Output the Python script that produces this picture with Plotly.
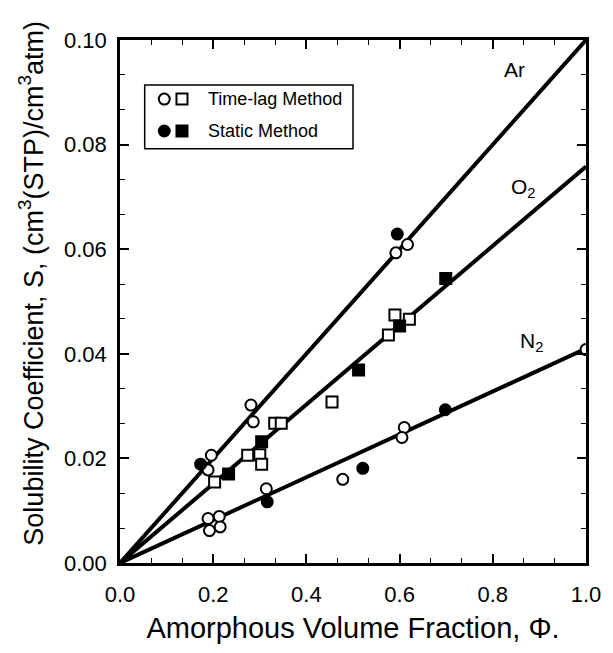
import plotly.graph_objects as go

# ---- data ----
ar_open_x = [0.189, 0.196, 0.281, 0.286, 0.592, 0.617]
ar_open_y = [0.0178, 0.0206, 0.0302, 0.0270, 0.0593, 0.0609]
ar_fill_x = [0.173, 0.595]
ar_fill_y = [0.0189, 0.0629]

o2_open_x = [0.203, 0.274, 0.300, 0.304, 0.332, 0.346, 0.455, 0.576, 0.590, 0.621]
o2_open_y = [0.0155, 0.0206, 0.0207, 0.0189, 0.0267, 0.0267, 0.0308, 0.0436, 0.0474, 0.0466]
o2_fill_x = [0.233, 0.304, 0.512, 0.600, 0.699]
o2_fill_y = [0.0170, 0.0232, 0.0369, 0.0453, 0.0544]

n2_open_x = [0.189, 0.213, 0.192, 0.215, 0.314, 0.478, 0.610, 0.605, 1.0]
n2_open_y = [0.0085, 0.0089, 0.0062, 0.0069, 0.0142, 0.0160, 0.0259, 0.0240, 0.0408]
n2_fill_x = [0.316, 0.521, 0.698]
n2_fill_y = [0.0117, 0.0181, 0.0293]

line_x = [0.0, 1.0]
slopes = {"Ar": 0.100, "O2": 0.0758, "N2": 0.0410}

x_ticks = [0, 0.2, 0.4, 0.6, 0.8, 1.0]
x_labels = ["0.0", "0.2", "0.4", "0.6", "0.8", "1.0"]
y_ticks = [0, 0.02, 0.04, 0.06, 0.08, 0.10]
y_labels = ["0.00", "0.02", "0.04", "0.06", "0.08", "0.10"]

FONT = "Liberation Sans, Arial, Helvetica, sans-serif"
MS = 11

fig = go.Figure()

for gas, k in slopes.items():
    fig.add_trace(go.Scatter(x=line_x, y=[k * v for v in line_x], mode="lines",
                             line=dict(color="black", width=4), showlegend=False,
                             hoverinfo="skip"))

def pts(x, y, symbol, filled):
    fig.add_trace(go.Scatter(
        x=x, y=y, mode="markers", showlegend=False, cliponaxis=True,
        marker=dict(symbol=symbol, size=MS,
                    color="black" if filled else "white",
                    line=dict(color="black", width=2))))

pts(ar_open_x, ar_open_y, "circle", False)
pts(ar_fill_x, ar_fill_y, "circle", True)
pts(o2_open_x, o2_open_y, "square", False)
pts(o2_fill_x, o2_fill_y, "square", True)
pts(n2_open_x, n2_open_y, "circle", False)
pts(n2_fill_x, n2_fill_y, "circle", True)

# legend glyphs on an overlay axis (0..1 of plot area)
leg_x_c = [0.095]
leg_x_s = [0.133]
leg_rows = [0.887, 0.826]
for row, filled in zip(leg_rows, [False, True]):
    for lx, sym in [(leg_x_c, "circle"), (leg_x_s, "square")]:
        fig.add_trace(go.Scatter(x=lx, y=[row], xaxis="x2", yaxis="y2", mode="markers",
                                 showlegend=False, hoverinfo="skip",
                                 marker=dict(symbol=sym, size=MS,
                                             color="black" if filled else "white",
                                             line=dict(color="black", width=2))))

fig.add_shape(type="rect", xref="paper", yref="paper", x0=0.053, x1=0.50, y0=0.792, y1=0.914,
              line=dict(color="black", width=1.5), fillcolor="rgba(0,0,0,0)")

for txt, row in zip(["Time-lag Method", "Static Method"], leg_rows):
    fig.add_annotation(x=0.184, y=row, xref="paper", yref="paper", text=txt, showarrow=False,
                       xanchor="left", yanchor="middle", font=dict(family=FONT, size=18, color="black"))

for txt, px, py in [("Ar", 0.847, 0.944), ("O<sub>2</sub>", 0.865, 0.717), ("N<sub>2</sub>", 0.882, 0.423)]:
    fig.add_annotation(x=px, y=py, xref="paper", yref="paper", text=txt, showarrow=False,
                       xanchor="center", yanchor="middle", font=dict(family=FONT, size=21, color="black"))

# y-axis title (placed as rotated text, slightly above centre as in the reference)
fig.add_annotation(x=-0.19, y=0.535, xref="paper", yref="paper",
                   text="Solubility Coefficient, S, (cm<sup>3</sup>(STP)/cm<sup>3</sup>atm)",
                   textangle=-90, showarrow=False, xanchor="center", yanchor="middle",
                   font=dict(family=FONT, size=27, color="black"))

axis_common = dict(showgrid=False, zeroline=False, showline=True, linecolor="black", linewidth=2.5,
                   mirror="allticks", ticks="inside", ticklen=9, tickwidth=1.8, tickcolor="black",
                   tickfont=dict(family=FONT, size=22, color="black"))

fig.update_layout(
    width=613, height=653,
    margin=dict(l=120, r=21, t=40, b=90),
    paper_bgcolor="white", plot_bgcolor="white",
    xaxis=dict(range=[0, 1.0], tickvals=x_ticks, ticktext=x_labels, ticklabelstandoff=10,
               minor=dict(dtick=1/15, tick0=0, ticks="inside", ticklen=5, tickcolor="black", tickwidth=1.3),
               title=dict(text="Amorphous Volume Fraction, Φ.", font=dict(family=FONT, size=29, color="black"), standoff=12),
               **axis_common),
    yaxis=dict(range=[0, 0.1], tickvals=y_ticks, ticktext=y_labels, ticklabelstandoff=6,
               minor=dict(dtick=0.02/3, tick0=0, ticks="inside", ticklen=5, tickcolor="black", tickwidth=1.3),
               **axis_common),
    xaxis2=dict(range=[0, 1], overlaying="x", visible=False, fixedrange=True),
    yaxis2=dict(range=[0, 1], overlaying="y", visible=False, fixedrange=True),
    showlegend=False,
)

fig.write_html("out.html")
